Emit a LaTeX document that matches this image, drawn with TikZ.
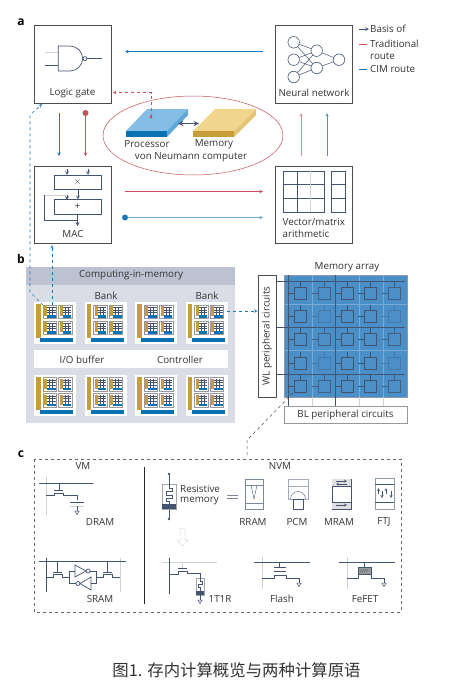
\documentclass[tikz,border=0pt]{standalone}
\usepackage{fontspec}
\setmainfont{Open Sans}
\newfontfamily\cjk{Noto Sans CJK SC}
\definecolor{inkline}{HTML}{44536F}
\definecolor{cimblue}{HTML}{1B78B4}
\definecolor{tradred}{HTML}{C8505A}
\definecolor{goldbar}{HTML}{C79C3A}
\definecolor{goldtop}{HTML}{F1D58C}
\definecolor{cpublue}{HTML}{84BDE6}
\definecolor{cpufront}{HTML}{0A72B3}
\definecolor{arrayblue}{HTML}{4A8FC7}
\definecolor{cimhead}{HTML}{BCC2D2}
\definecolor{cimbody}{HTML}{DADDE6}
\tikzset{
  panel/.style={draw=black!70, line width=0.7pt, fill=white, inner sep=0pt},
  lbl/.style={font=\fontsize{9.8}{11}\selectfont, text=black!80, inner sep=0pt},
  tag/.style={font=\fontsize{12}{13}\selectfont\bfseries, inner sep=0pt},
  ink/.style={draw=inkline, line width=0.7pt},
  faint/.style={draw=black!18, line width=0.8pt},
  neuron/.style={circle, draw=inkline, line width=0.6pt, minimum size=11.5pt, inner sep=0pt},
  cimroute/.style={cimblue, line width=0.6pt, ->},
  tradroute/.style={tradred, line width=0.6pt, ->}
}
% 存储小单元
\newcommand{\minicell}[2]{
  \fill[white] (#1,#2) rectangle ++(13.5,13.5);
  \draw[black!40, line width=0.6pt] (#1,#2) rectangle ++(13.5,13.5);
  \fill[goldbar] (#1+1,#2+1) rectangle ++(3,10);
  \fill[cpufront] (#1+4,#2+10) rectangle ++(8.5,2.5);
  \foreach \gy in {2.5,5,7.5} \draw[inkline, line width=0.35pt] (#1+4,#2+\gy) -- ++(8.5,0);
  \foreach \gx in {6.5,9.5} \draw[inkline, line width=0.35pt] (#1+\gx,#2+1.5) -- ++(0,8.5);
}
% Bank
\newcommand{\bankblock}[2]{
  \fill[white] (#1,#2) rectangle ++(42,41.5);
  \fill[goldbar] (#1+2,#2+2) rectangle ++(4.5,33.5);
  \fill[cpufront] (#1+6,#2+35.5) rectangle ++(33,4);
  \minicell{#1+9}{#2+3}
  \minicell{#1+24.5}{#2+3}
  \minicell{#1+9}{#2+19}
  \minicell{#1+24.5}{#2+19}
}
% 接地符号
\newcommand{\groundmark}[2]{
  \draw[ink, line width=0.5pt] (#1-2.2,#2) -- (#1+2.2,#2) -- (#1,#2+3.5) -- cycle;
}
\begin{document}
\begin{tikzpicture}[x=1pt, y=-1pt, >=stealth]
    \useasboundingbox (0,0) rectangle (455,689);

    % a 四个方框
    \node[tag] (taga) at (21,22) {a};
    \node[panel, minimum width=77pt, minimum height=78pt] (logic) at (72.5,64) {};
    \node[panel, minimum width=77pt, minimum height=78pt] (neural) at (313.5,64) {};
    \node[panel, minimum width=77pt, minimum height=77pt] (mac) at (72.5,204.5) {};
    \node[panel, minimum width=77pt, minimum height=77pt] (vector) at (313.5,204.5) {};
    \node[lbl] (logiclbl) at (72.5,93) {Logic gate};
    \node[lbl] (neurallbl) at (314,93) {Neural network};
    \node[lbl] (maclbl) at (73,234) {MAC};
    \node[lbl, anchor=west] (vectorlbl1) at (282.5,222) {Vector/matrix};
    \node[lbl, anchor=west] (vectorlbl2) at (282.5,234) {arithmetic};

    % 与非门
    \draw[ink] (58.3,46) -- (70,46) .. controls (77,46) and (82.7,52) .. (82.7,58.6) .. controls (82.7,65) and (77,71) .. (70,71) -- (58.3,71) -- cycle;
    \draw[ink] (85,58.6) circle (2pt);
    \draw[ink] (87,58.6) -- (102,58.6);
    \draw[faint] (45,52) -- (58,52);
    \draw[ink] (45,65) -- (58,65);

    % 神经网络
    \node[neuron] (in1) at (293.7,42.3) {};
    \node[neuron] (in2) at (293.7,59.7) {};
    \node[neuron] (in3) at (293.7,77) {};
    \node[neuron] (hid1) at (316.7,50.7) {};
    \node[neuron] (hid2) at (316.7,68) {};
    \node[neuron] (out1) at (339,59.7) {};
    \foreach \a in {in1,in2,in3} \foreach \b in {hid1,hid2} \draw[ink, line width=0.5pt] (\a) -- (\b);
    \foreach \b in {hid1,hid2} \draw[ink, line width=0.5pt] (\b) -- (out1);

    % MAC
    \node[panel, draw=inkline, minimum width=47pt, minimum height=14.5pt] (mulbox) at (78,182.5) {};
    \node[panel, draw=inkline, minimum width=47pt, minimum height=14.5pt] (addbox) at (78,207) {};
    \node[lbl] (mullbl) at (77.5,182) {$\times$};
    \node[lbl] (addlbl) at (77.5,207) {+};
    \coordinate (mulin1) at (67,169);
    \coordinate (mulin2) at (88,169);
    \coordinate (macout) at (77.5,226);
    \draw[ink, ->] (mulin1) -- (mulin1 |- mulbox.north);
    \draw[ink, ->] (mulin2) -- (mulin2 |- mulbox.north);
    \draw[ink, ->] (mulbox.south) -- (addbox.north);
    \draw[ink, ->] (addbox.south -| macout) -- (macout);
    \draw[ink] (77.5,220.5) -- (44.5,220.5);
    \draw[faint] (44.5,195) -- (67,195);
    \draw[ink, ->] (67,195) -- (67,200);
    \draw[ink] (44.5,220.5) -- (44.5,195);

    % 矩阵与向量
    \draw[ink] (283.3,171) rectangle (324.3,212);
    \draw[ink] (331.7,171) rectangle (345.3,212);
    \draw[ink] (283.3,184) -- (324.3,184) (283.3,198) -- (324.3,198) (297.7,171) -- (297.7,212);
    \draw[faint] (310.7,171) -- (310.7,212);
    \draw[ink] (331.7,184) -- (345.3,184) (331.7,198) -- (345.3,198);

    % 路线
    \coordinate (nnout) at (263,51.5);
    \coordinate (lgin) at (125,51.5);
    \coordinate (lgoutb) at (59,113);
    \coordinate (macinb) at (59,156);
    \coordinate (lgoutr) at (85.5,113);
    \coordinate (macinr) at (85.5,156);
    \coordinate (macoutr) at (125,191.5);
    \coordinate (vecinr) at (263,191.5);
    \coordinate (macoutb) at (125,217.5);
    \coordinate (vecinb) at (263,217.5);
    \coordinate (vecoutr) at (301,156);
    \coordinate (nninr) at (301,113);
    \coordinate (vecoutb) at (327,156);
    \coordinate (nninb) at (327,113);
    \draw[cimroute] (nnout) -- (lgin);
    \draw[cimroute] (lgoutb) -- (macinb);
    \draw[tradroute] (lgoutr) -- (macinr);
    \fill[tradred] (lgoutr) circle (3pt);
    \draw[tradroute] (macoutr) -- (vecinr);
    \draw[cimroute, cimblue!65] (macoutb) -- (vecinb);
    \fill[cimblue] (macoutb) circle (3pt);
    \draw[tradroute, tradred!65] (vecoutr) -- (nninr);
    \draw[cimroute, cimblue!80] (vecoutb) -- (nninb);

    % 冯诺依曼
    \draw[tradred, line width=0.5pt] (193,135.5) ellipse (90pt and 39.5pt);
    \fill[cpublue] (126,131) -- (147,109) -- (188,109) -- (167,131) -- cycle;
    \fill[cpufront] (126,131) rectangle (167,137);
    \fill[cpublue!70!cpufront] (167,131) -- (188,109) -- (188,115) -- (167,137) -- cycle;
    \fill[goldtop] (193,131) -- (215,109) -- (256,109) -- (234,131) -- cycle;
    \fill[goldbar] (193,131) rectangle (234,137);
    \fill[goldtop!70!goldbar] (234,131) -- (256,109) -- (256,115) -- (234,137) -- cycle;
    \coordinate (cpuport) at (178,123.5);
    \coordinate (memport) at (199,123.5);
    \draw[inkline, line width=1.4pt, <->] (cpuport) -- (memport);
    \coordinate (cpudot) at (151,117);
    \coordinate (lgred) at (113,92.5);
    \draw[tradred, line width=0.6pt, dashed, ->] (cpudot) -- (151,92.5) -- (lgred);
    \fill[tradred] (cpudot) circle (1.6pt);
    \node[lbl] (cpulbl) at (147,144) {Processor};
    \node[lbl] (memlbl) at (214,144) {Memory};
    \node[lbl] (vnlbl) at (191,157) {von Neumann computer};

    % 图例
    \coordinate (key1a) at (359,29);
    \coordinate (key1b) at (369,29);
    \coordinate (key2a) at (359,44);
    \coordinate (key2b) at (367,44);
    \coordinate (key3a) at (359,69);
    \coordinate (key3b) at (367,69);
    \draw[ink, ->] (key1a) -- (key1b);
    \draw[tradred, line width=0.7pt] (key2a) -- (key2b);
    \draw[cimblue, line width=0.8pt] (key3a) -- (key3b);
    \node[lbl, anchor=west] (keybasis) at (370,29) {Basis of};
    \node[lbl, anchor=west] (keytrad) at (370,44) {Traditional};
    \node[lbl, anchor=west] (keyroute) at (370,56) {route};
    \node[lbl, anchor=west] (keycim) at (370,69) {CIM route};

    % b 计算内存
    \node[tag] (tagb) at (21,259) {b};
    \fill[cimbody] (26,285) rectangle (235,423);
    \fill[cimhead] (26,267) rectangle (235,285);
    \node[lbl] (cimlbl) at (131,275) {Computing-in-memory};
    \node[lbl] (banklbl1) at (106,296) {Bank};
    \node[lbl] (banklbl2) at (207,296) {Bank};
    \foreach \bx in {34,84.5,135,185.5} {
      \bankblock{\bx}{302}
      \bankblock{\bx}{374.5}
    }
    \fill[white] (34,350) rectangle (227.5,368);
    \node[lbl] (iolbl) at (82,360) {I/O buffer};
    \node[lbl] (ctrllbl) at (180,360) {Controller};

    % 存储阵列
    \node[lbl] (arraylbl) at (347,267) {Memory array};
    \node[draw=inkline!60, line width=0.5pt, fill=arrayblue, minimum width=123pt, minimum height=122pt, inner sep=0pt] (array) at (345.5,336) {};
    \node[panel, minimum width=18pt, minimum height=122pt] (wlbox) at (267,336) {};
    \node[lbl, rotate=90] (wllbl) at (267,336) {WL peripheral circuits};
    \node[panel, draw=black!40, minimum width=123pt, minimum height=17pt] (blbox) at (345.5,414.5) {};
    \node[lbl] (bllbl) at (345.5,415) {BL peripheral circuits};
    \foreach \lx in {312,359,383} {
      \draw[white!25!arrayblue, line width=0.4pt] (\lx,275) -- (\lx,397);
      \draw[faint] (\lx,397) -- (\lx,406);
    }
    \foreach \ly in {304,350} \draw[white!25!arrayblue, line width=0.4pt] (284,\ly) -- (407,\ly);
    \foreach \lx in {288,335} \draw[ink] (\lx,275) -- (\lx,406);
    \foreach \ly in {281,327,374} \draw[ink] (276,\ly) -- (405,\ly);
    \foreach \cx/\cc in {294/inkline,341/inkline,364/inkline} \foreach \cy in {287,310,333,357,380} {
      \draw[\cc, line width=0.55pt] (\cx,\cy) rectangle ++(12,12);
      \draw[\cc, line width=0.45pt] (\cx+6,\cy-5) -- (\cx+6,\cy);
      \draw[\cc, line width=0.45pt] (\cx-6,\cy+6) -- (\cx,\cy+6);
    }
    \foreach \cx/\cy/\ct in {318/287/80,318/310/35,318/333/80,318/357/35,318/380/80,388/287/80,388/310/35,388/333/80,388/357/35,388/380/80} {
      \draw[inkline!\ct!arrayblue, line width=0.55pt] (\cx,\cy) rectangle ++(12,12);
      \draw[inkline!\ct!arrayblue, line width=0.45pt] (\cx+6,\cy-5) -- (\cx+6,\cy);
      \draw[inkline!\ct!arrayblue, line width=0.45pt] (\cx-6,\cy+6) -- (\cx,\cy+6);
    }

    % 虚线连接
    \coordinate (bankport) at (227,311);
    \draw[cimroute, dashed] (bankport) -- (wlbox.west |- bankport);
    \coordinate (cellport) at (52,305);
    \coordinate (macport) at (52,245);
    \draw[cimroute, dashed] (cellport) -- (macport);
    \coordinate (cellcorner) at (43,305);
    \coordinate (lgport) at (42,104);
    \draw[cimroute, dashed] (cellcorner) -- (30,292) -- (30,115) -- (lgport);
    \coordinate (arraycell) at (293,393);
    \coordinate (boxtop) at (247,458);
    \draw[black!70, line width=0.5pt, dashed] (arraycell) -- (247,440) -- (boxtop);

    % c 存储器件
    \node[tag] (tagc) at (21,454) {c};
    \draw[black!60, line width=0.6pt, dashed] (34,459) rectangle (401,612);
    \node[lbl] (vmlbl) at (83,466) {VM};
    \node[lbl] (nvmlbl) at (280,466) {NVM};
    \draw[black!85, line width=0.8pt] (144,467) -- (144,604);

    % DRAM
    \draw[faint] (46,477) -- (46,515);
    \draw[ink] (39,483) -- (93,483);
    \draw[ink] (59,483) -- (59,490) (54,490) -- (63,490);
    \draw[ink] (46,495) -- (54,495) -- (54,493) -- (63,493) -- (63,495) -- (77,495) -- (77,500);
    \draw[ink] (70,502) -- (84,502);
    \draw[faint] (70,506) -- (84,506);
    \draw[ink] (77,506) -- (77,511);
    \groundmark{77}{511}
    \node[lbl] (dramlbl) at (100,522) {DRAM};

    % SRAM
    \draw[faint] (120,558) -- (120,592);
    \draw[ink] (39,561) -- (126,561);
    \draw[ink] (46,558) -- (46,592);
    \draw[ink] (57,561) -- (57,572) (53,572) -- (62,572);
    \draw[ink] (46,577) -- (53,577) -- (53,574) -- (62,574) -- (62,577) -- (69,577);
    \draw[ink] (107,561) -- (107,572) (103,572) -- (112,572);
    \draw[ink] (96,577) -- (103,577) -- (103,574) -- (112,574) -- (112,577) -- (120,577);
    \draw[ink] (75,565) -- (75,577) -- (86,571) -- cycle;
    \draw[ink] (88,571) circle (2pt);
    \draw[ink] (91,577) -- (91,590) -- (80,583.5) -- cycle;
    \draw[ink] (78,583.5) circle (2pt);
    \draw[ink] (75,571) -- (69,571) -- (69,583.5) -- (76,583.5);
    \draw[ink] (90,571) -- (96,571) -- (96,583.5) -- (91,583.5);
    \node[lbl] (sramlbl) at (100,599) {SRAM};

    % 阻变存储器
    \fill[inkline] (169,474) circle (1.3pt) (169,519) circle (1.3pt);
    \draw[ink] (169,474) -- (169,484) (169,509) -- (169,519);
    \draw[black!35, line width=0.6pt] (162,484) rectangle (176,509);
    \fill[inkline] (162,504) rectangle (176,509);
    \draw[ink, line width=0.5pt] (169,484) -- (169,488) -- (172,488) -- (172,491.5) -- (166,491.5) -- (166,495) -- (172,495) -- (172,498.5) -- (166,498.5) -- (166,501) -- (169,501) -- (169,504);
    \node[lbl, anchor=west] (reslbl1) at (180,489) {Resistive};
    \node[lbl, anchor=west] (reslbl2) at (180,501) {memory};
    \draw[inkline!70, line width=1pt] (227,495) -- (238,495) (227,498) -- (238,498);
    \draw[black!40, line width=0.5pt, densely dotted] (180,528) -- (185,528) -- (185,540) -- (188,540) -- (182.5,546) -- (177,540) -- (180,540) -- cycle;

    % 1T1R
    \draw[faint] (162,562) -- (217,562);
    \draw[faint] (182,562) -- (182,568);
    \draw[ink] (169,558) -- (169,594);
    \draw[ink] (178,568) -- (187,568);
    \draw[ink] (169,574) -- (178,574) -- (178,571) -- (187,571) -- (187,573) -- (200,573) -- (200,578);
    \draw[black!35, line width=0.5pt] (196,578) rectangle (204,595);
    \fill[inkline] (196,591) rectangle (204,595);
    \draw[ink, line width=0.4pt] (200,578) -- (200,581) -- (202,581) -- (202,584) -- (198,584) -- (198,587) -- (200,587) -- (200,591);
    \draw[ink] (200,595) -- (200,600);
    \groundmark{200}{600}
    \node[lbl] (ttlbl) at (220,599) {1T1R};

    % RRAM
    \draw[ink, draw=inkline!70] (245,479) rectangle (263,509);
    \draw[ink, draw=inkline!70] (245,485) -- (263,485) (245,503) -- (263,503);
    \draw[ink, line width=0.4pt] (251,485) -- (254,499) -- (257,485);
    \node[lbl] (rramlbl) at (253,522) {RRAM};

    % PCM
    \draw[ink, draw=inkline!50] (288,479) rectangle (308,499);
    \draw[ink, draw=inkline!50] (288,486) -- (308,486);
    \draw[ink] (293,499) rectangle (303,509);
    \draw[ink, line width=0.4pt] (290.5,499) arc (180:360:7.5pt and -7.5pt);
    \node[lbl] (pcmlbl) at (297,522) {PCM};

    % MRAM
    \draw[ink] (332,479) rectangle (351,509);
    \fill[black!12] (332.4,479.4) rectangle (350.6,486);
    \fill[black!12] (332.4,502) rectangle (350.6,508.6);
    \draw[ink] (332,486) -- (351,486) (332,502) -- (351,502);
    \draw[inkline, line width=0.4pt, ->] (336,481) -- (347,481);
    \draw[inkline, line width=0.4pt, ->] (347,484) -- (336,484);
    \draw[inkline, line width=0.4pt, ->] (336,505) -- (347,505);
    \node[lbl] (mramlbl) at (339,522) {MRAM};

    % FTJ
    \draw[ink, draw=inkline!60] (375,478) rectangle (394,509);
    \draw[ink] (375,484) -- (394,484) (375,502) -- (394,502);
    \foreach \fx in {378.5,386} \draw[inkline, line width=0.4pt, ->] (\fx,494) -- (\fx,488);
    \foreach \fx in {382,391} \draw[inkline, line width=0.4pt, ->] (\fx,491) -- (\fx,498);
    \node[lbl] (ftjlbl) at (384,522) {FTJ};

    % Flash
    \draw[faint] (262,557) -- (262,589);
    \draw[ink] (254,562) -- (310,562);
    \draw[ink] (279,562) -- (279,567) (274,567) -- (286,567);
    \draw[ink, line width=0.5pt] (274,571) -- (286,571);
    \draw[ink] (262,578) -- (274,578) -- (274,575) -- (286,575) -- (286,578) -- (299,578) -- (299,583);
    \groundmark{299}{583}
    \node[lbl] (flashlbl) at (282,599) {Flash};

    % FeFET
    \draw[faint] (347,557) -- (347,589);
    \draw[ink] (339,562) -- (395,562);
    \draw[ink] (364,562) -- (364,567);
    \draw[inkline, fill=black!40, line width=0.5pt] (358,567) rectangle (371,574);
    \draw[inkline, line width=0.3pt] (360,572.5) -- (362,569) (362,572.5) -- (364,569) (364,572.5) -- (366,569) (366,572.5) -- (368,569);
    \draw[ink] (347,578) -- (358,578) -- (358,574) (371,574) -- (371,578) -- (384,578) -- (384,583);
    \groundmark{384}{583}
    \node[lbl] (fefetlbl) at (365,599) {FeFET};

    % 图题
    \node[inner sep=0pt, text=black!80, font=\fontsize{16.4}{18}\selectfont\cjk] (caption) at (236.5,670) {图1. 存内计算概览与两种计算原语};
\end{tikzpicture}
\end{document}
